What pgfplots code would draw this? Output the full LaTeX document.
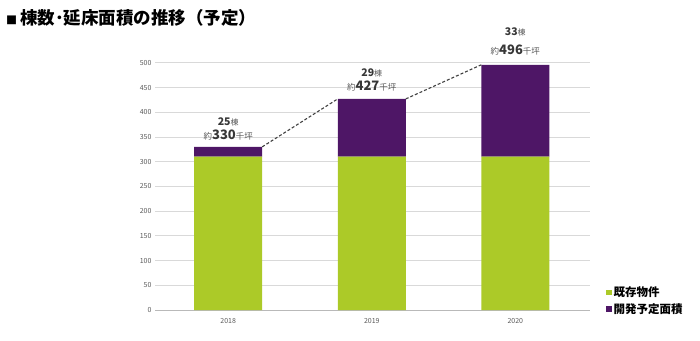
\documentclass[border=0pt]{standalone}
\usepackage{pgfplots}
\pgfplotsset{compat=1.18}
\usepackage{fontspec}
\setmainfont{Noto Sans CJK JP}
\definecolor{grn}{RGB}{172,202,40}
\definecolor{prp}{RGB}{78,22,102}
\definecolor{txt}{RGB}{55,55,55}
\definecolor{lbl}{RGB}{90,90,90}
\begin{document}
\begin{tikzpicture}
\path[use as bounding box] (0pt,0pt) rectangle (700pt,340pt);
\node[anchor=west,inner sep=0pt,font=\fontsize{17.5}{17.5}\selectfont\bfseries,text=black] at (6pt,322pt) {{\fontsize{11}{11}\selectfont ■}\hspace{3pt}棟数･延床面積の推移（予定）};
\begin{axis}[at={(155pt,30pt)}, anchor=south west, scale only axis,
  width=435pt, height=247.2pt, xmin=-0.51, xmax=2.52, ymin=0, ymax=500,
  ybar stacked, bar width=68pt, clip=false,
  axis x line*=bottom, axis y line*=left,
  y axis line style={draw=none}, x axis line style={draw=gray!55,-},
  xtick={0,1,2}, xticklabels={2018,2019,2020},
  ytick={0,50,...,500}, ymajorgrids, grid style={gray!30,line width=0.7pt},
  tick style={draw=none},
  yticklabel style={font=\fontsize{7}{7}\selectfont,text=lbl},
  xticklabel style={font=\fontsize{7}{7}\selectfont,text=lbl,yshift=-5pt},
  /pgf/number format/assume math mode=true,
  legend style={at={(1.03,0.11)},anchor=north west,draw=none,fill=none,
    font=\fontsize{11.5}{12}\selectfont\bfseries,row sep=1pt,
    /tikz/every even column/.append style={column sep=1pt}},
  legend cell align=left,
  legend image code/.code={\fill[#1] (0pt,-2.6pt) rectangle (5.4pt,2.8pt);},
]
\addplot[fill=grn,draw=none] coordinates {(0,310) (1,310) (2,310)};
\addlegendentry{既存物件}
\addplot[fill=prp,draw=none] coordinates {(0,20) (1,117) (2,186)};
\addlegendentry{開発予定面積}
\node[text=lbl,font=\fontsize{8}{8}\selectfont] at (axis cs:0,380) {\textbf{\color{txt}\fontsize{10.5}{11}\selectfont 25}棟};
\node[text=lbl,font=\fontsize{8.5}{9}\selectfont] at (axis cs:0,354) {約\textbf{\color{txt}\fontsize{13}{13}\selectfont 330}千坪};
\node[text=lbl,font=\fontsize{8}{8}\selectfont] at (axis cs:1,480) {\textbf{\color{txt}\fontsize{10.5}{11}\selectfont 29}棟};
\node[text=lbl,font=\fontsize{8.5}{9}\selectfont] at (axis cs:1,453) {約\textbf{\color{txt}\fontsize{13}{13}\selectfont 427}千坪};
\node[text=lbl,font=\fontsize{8}{8}\selectfont] at (axis cs:2,562) {\textbf{\color{txt}\fontsize{10.5}{11}\selectfont 33}棟};
\node[text=lbl,font=\fontsize{8.5}{9}\selectfont] at (axis cs:2,526) {約\textbf{\color{txt}\fontsize{13}{13}\selectfont 496}千坪};
\end{axis}
\begin{axis}[at={(155pt,30pt)}, anchor=south west, scale only axis,
  width=435pt, height=247.2pt, xmin=-0.51, xmax=2.52, ymin=0, ymax=500,
  hide axis, clip=false]
\addplot[densely dashed, line width=1.1pt, draw=black!75] coordinates {(0.237,330) (0.763,427)};
\addplot[densely dashed, line width=1.1pt, draw=black!75] coordinates {(1.237,427) (1.763,496)};
\end{axis}
\end{tikzpicture}
\end{document}
